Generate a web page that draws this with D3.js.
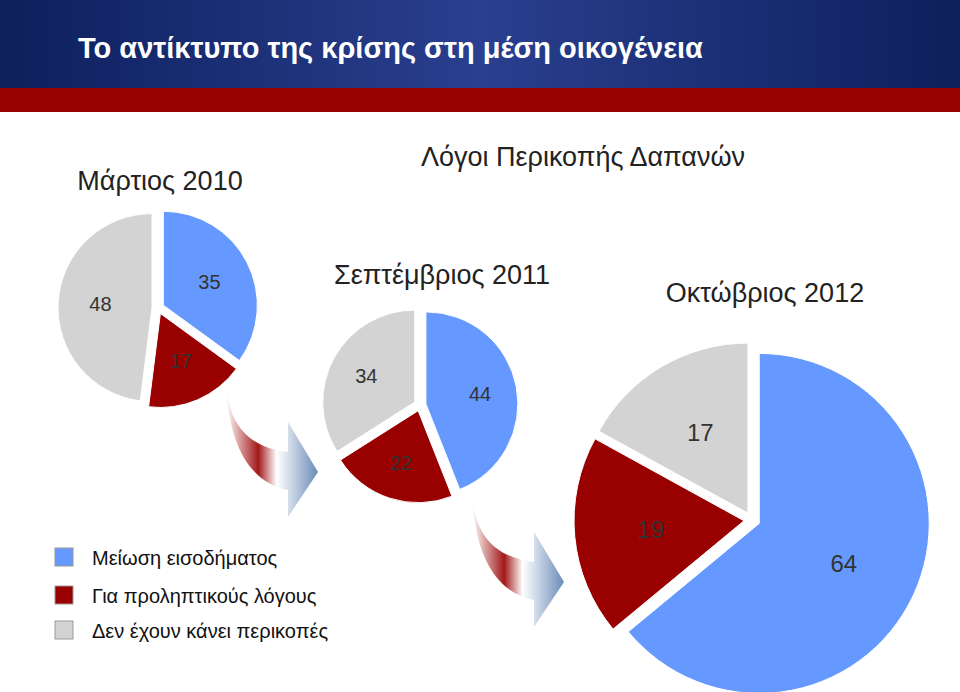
<!DOCTYPE html>
<html><head><meta charset="utf-8">
<script src="https://cdn.jsdelivr.net/npm/d3@7"></script>
<style>body{margin:0;background:#fff}svg{display:block;font-family:"Liberation Sans",Arial,sans-serif}</style>
</head><body>
<script>
const categories = ["Μείωση εισοδήματος", "Για προληπτικούς λόγους", "Δεν έχουν κάνει περικοπές"];
const colors = ["#6699ff", "#990000", "#d3d3d3"];
const periods = ["Μάρτιος  2010", "Σεπτέμβριος 2011", "Οκτώβριος 2012"];
const march2010 = [35, 17, 48];
const sept2011 = [44, 22, 34];
const oct2012 = [64, 19, 17];

const svg = d3.select("body").append("svg").attr("width", 960).attr("height", 692);
const defs = svg.append("defs");

const hg = defs.append("linearGradient").attr("id", "hdr").attr("x1", 0).attr("x2", 1);
hg.append("stop").attr("offset", 0).attr("stop-color", "#0d1f5c");
hg.append("stop").attr("offset", 0.5).attr("stop-color", "#2a3f8f");
hg.append("stop").attr("offset", 1).attr("stop-color", "#0d1f5c");
svg.append("rect").attr("width", 960).attr("height", 88).attr("fill", "url(#hdr)");
svg.append("rect").attr("y", 88).attr("width", 960).attr("height", 24).attr("fill", "#990000");
svg.append("text").attr("x", 78).attr("y", 58).attr("fill", "#fff").attr("font-size", 29).attr("font-weight", "bold")
  .text("Το αντίκτυπο της κρίσης στη μέση οικογένεια");

svg.append("text").attr("x", 583).attr("y", 166).attr("text-anchor", "middle").attr("font-size", 27)
  .attr("fill", "#222").text("Λόγοι Περικοπής Δαπανών");

const pies = [
  {data: march2010, cx: 158, cy: 308, r: 94, off: 6, title: [160, 190], fs: 20, lr: 0.55},
  {data: sept2011, cx: 420, cy: 405, r: 92, off: 6, title: [442, 284], fs: 20, lr: 0.6},
  {data: oct2012, cx: 752, cy: 520, r: 170, off: 8, title: [765, 302], fs: 24, lr: 0.55}
];
const pie = d3.pie().sort(null).value(d => d);

pies.forEach((p, i) => {
  svg.append("text").attr("x", p.title[0]).attr("y", p.title[1]).attr("text-anchor", "middle")
    .attr("font-size", 27).attr("fill", "#222").text(periods[i]);
  const arc = d3.arc().innerRadius(0).outerRadius(p.r);
  const lab = d3.arc().innerRadius(p.r * p.lr).outerRadius(p.r * p.lr);
  const g = svg.append("g").attr("transform", `translate(${p.cx},${p.cy})`);
  const sl = g.selectAll("g").data(pie(p.data)).enter().append("g")
    .attr("transform", d => {
      const a = (d.startAngle + d.endAngle) / 2;
      return `translate(${Math.sin(a) * p.off},${-Math.cos(a) * p.off})`;
    });
  sl.append("path").attr("d", arc).attr("fill", (d, j) => colors[j]).attr("stroke", "#fff").attr("stroke-width", 1);
  sl.append("text").attr("transform", d => `translate(${lab.centroid(d)})`).attr("text-anchor", "middle")
    .attr("dy", "0.35em").attr("font-size", p.fs).attr("fill", "#333").text(d => d.data);
});

// curved transition arrows
function arrow(id, x, y) {
  const lg = defs.append("linearGradient").attr("id", id).attr("x1", 0).attr("x2", 1);
  lg.append("stop").attr("offset", 0).attr("stop-color", "#fff");
  lg.append("stop").attr("offset", 0.35).attr("stop-color", "#990000");
  lg.append("stop").attr("offset", 0.55).attr("stop-color", "#ffffff");
  lg.append("stop").attr("offset", 1).attr("stop-color", "#5a7fb0");
  svg.append("path").attr("transform", `translate(${x},${y})`)
    .attr("d", "M0,0 C2,40 20,65 62,70 L62,40 L92,90 L62,135 L62,108 C22,100 2,60 0,0 Z")
    .attr("fill", `url(#${id})`).attr("opacity", 0.9);
}
arrow("ar1", 226, 382);
arrow("ar2", 472, 492);

const leg = svg.append("g");
const ly = [558, 596, 631];
categories.forEach((c, i) => {
  leg.append("rect").attr("x", 55).attr("y", ly[i] - 10).attr("width", 18).attr("height", 18)
    .attr("fill", colors[i]).attr("stroke", "#999");
  leg.append("text").attr("x", 92).attr("y", ly[i] + 7).attr("font-size", 20).attr("fill", "#111").text(c);
});
</script>
</body></html>
